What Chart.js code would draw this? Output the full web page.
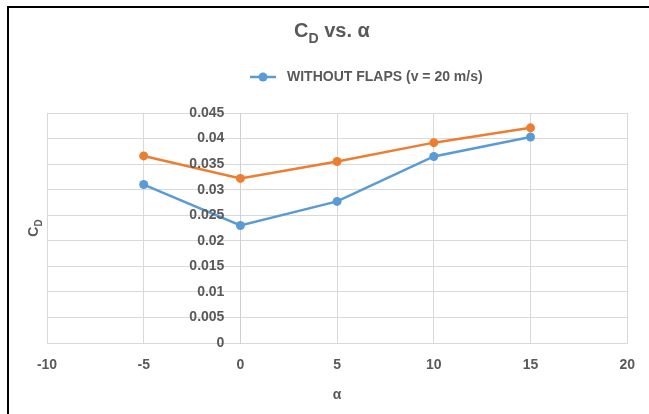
<!DOCTYPE html>
<html>
<head>
<meta charset="utf-8">
<script src="https://cdn.jsdelivr.net/npm/chart.js@4/dist/chart.umd.min.js"></script>
<style>
  html, body { margin: 0; padding: 0; background: #fff; }
  canvas { display: block; }
</style>
</head>
<body>
<canvas id="chart" width="649" height="414"></canvas>
<script>
// Angle of attack (degrees)
const alphaDeg = [-5, 0, 5, 10, 15];
// Drag coefficient, without flaps (v = 20 m/s)
const cdWithoutFlaps = [0.0310, 0.0230, 0.0277, 0.0365, 0.0403];
// Drag coefficient, with flaps
const cdWithFlaps = [0.0366, 0.0322, 0.0355, 0.0392, 0.0421];
// Axis ticks
const xTickValues = [-10, -5, 0, 5, 10, 15, 20];
const yTickValues = [0, 0.005, 0.01, 0.015, 0.02, 0.025, 0.03, 0.035, 0.04, 0.045];
const yTickLabels = ['0', '0.005', '0.01', '0.015', '0.02', '0.025', '0.03', '0.035', '0.04', '0.045'];

const legendLabel = 'WITHOUT FLAPS (v = 20 m/s)';
const BLUE = '#5B9BD5';
const ORANGE = '#ED7D31';
const TEXT = '#595959';
const GRID = '#d9d9d9';
const FONT = '"Liberation Sans", Arial, sans-serif';
const Y_LABEL_GAP = 16;

const toPoints = (xs, ys) => xs.map((x, i) => ({ x: x, y: ys[i] }));

// Draws a base letter followed by a lowered subscript, starting at x
function drawSubscripted(ctx, x, y, base, sub, baseSize, subSize, subDrop) {
  ctx.font = 'bold ' + baseSize + 'px ' + FONT;
  ctx.fillText(base, x, y);
  const w = ctx.measureText(base).width;
  ctx.font = 'bold ' + subSize + 'px ' + FONT;
  ctx.fillText(sub, x + w, y + subDrop);
  return w + ctx.measureText(sub).width;
}

const decorations = {
  id: 'decorations',
  beforeDraw(chart) {
    const ctx = chart.ctx;
    ctx.save();
    ctx.fillStyle = '#ffffff';
    ctx.fillRect(0, 0, chart.width, chart.height);
    ctx.restore();
  },
  afterDatasetsDraw(chart) {
    // y tick labels, placed left of the vertical axis that crosses at x = 0
    const ctx = chart.ctx;
    const xs = chart.scales.x;
    const ys = chart.scales.y;
    const axisX = xs.getPixelForValue(0);
    ctx.save();
    ctx.fillStyle = TEXT;
    ctx.font = 'bold 14px ' + FONT;
    ctx.textAlign = 'right';
    ctx.textBaseline = 'middle';
    yTickValues.forEach((v, i) => {
      ctx.fillText(yTickLabels[i], axisX - Y_LABEL_GAP, ys.getPixelForValue(v));
    });
    ctx.restore();
  },
  afterDraw(chart) {
    const ctx = chart.ctx;
    const area = chart.chartArea;
    ctx.save();

    // outer frame (top and left edges)
    ctx.fillStyle = '#000000';
    ctx.fillRect(7, 6, chart.width - 7, 2);
    ctx.fillRect(7, 6, 2, chart.height - 6);

    ctx.fillStyle = TEXT;
    ctx.textBaseline = 'alphabetic';
    ctx.textAlign = 'left';

    // chart title: C_D vs. α
    ctx.font = 'bold 20px ' + FONT;
    const cW = ctx.measureText('C').width;
    const restW = ctx.measureText(' vs. α').width;
    ctx.font = 'bold 14px ' + FONT;
    const dW = ctx.measureText('D').width;
    const total = cW + dW + restW;
    const tx = 332 - total / 2;
    const ty = 37;
    const used = drawSubscripted(ctx, tx, ty, 'C', 'D', 20, 14, 6);
    ctx.font = 'bold 20px ' + FONT;
    ctx.fillText(' vs. α', tx + used, ty);

    // legend (first series only)
    const ly = 77;
    ctx.strokeStyle = BLUE;
    ctx.lineWidth = 2.5;
    ctx.beginPath();
    ctx.moveTo(250, ly);
    ctx.lineTo(276, ly);
    ctx.stroke();
    ctx.fillStyle = BLUE;
    ctx.beginPath();
    ctx.arc(263, ly, 4.5, 0, Math.PI * 2);
    ctx.fill();
    ctx.fillStyle = TEXT;
    ctx.font = 'bold 14px ' + FONT;
    ctx.textBaseline = 'middle';
    ctx.fillText(legendLabel, 287, ly);

    // y axis title: C_D (rotated)
    ctx.save();
    ctx.translate(38, (area.top + area.bottom) / 2);
    ctx.rotate(-Math.PI / 2);
    ctx.textBaseline = 'alphabetic';
    ctx.font = 'bold 14px ' + FONT;
    const ycW = ctx.measureText('C').width;
    ctx.font = 'bold 10px ' + FONT;
    const ydW = ctx.measureText('D').width;
    drawSubscripted(ctx, -(ycW + ydW) / 2, 0, 'C', 'D', 14, 10, 4);
    ctx.restore();

    // x axis title: α
    ctx.textAlign = 'center';
    ctx.textBaseline = 'middle';
    ctx.font = 'bold 14px ' + FONT;
    ctx.fillText('α', (area.left + area.right) / 2, 395);

    ctx.restore();
  }
};

new Chart(document.getElementById('chart'), {
  type: 'scatter',
  data: {
    datasets: [
      {
        label: legendLabel,
        data: toPoints(alphaDeg, cdWithoutFlaps),
        showLine: true,
        borderColor: BLUE,
        backgroundColor: BLUE,
        borderWidth: 2.5,
        pointRadius: 4.5,
        pointBorderWidth: 0,
        pointHoverRadius: 4.5,
        order: 2
      },
      {
        label: 'WITH FLAPS (v = 20 m/s)',
        data: toPoints(alphaDeg, cdWithFlaps),
        showLine: true,
        borderColor: ORANGE,
        backgroundColor: ORANGE,
        borderWidth: 2.5,
        pointRadius: 4.5,
        pointBorderWidth: 0,
        pointHoverRadius: 4.5,
        order: 1
      }
    ]
  },
  options: {
    responsive: false,
    animation: false,
    devicePixelRatio: 1,
    layout: { padding: { left: 47, right: 21, top: 113, bottom: 0 } },
    plugins: {
      legend: { display: false },
      title: { display: false },
      tooltip: { enabled: false }
    },
    scales: {
      x: {
        type: 'linear',
        position: 'bottom',
        min: xTickValues[0],
        max: xTickValues[xTickValues.length - 1],
        afterBuildTicks: (scale) => { scale.ticks = xTickValues.map(v => ({ value: v })); },
        afterFit: (scale) => { scale.height = 71; },
        ticks: {
          color: TEXT,
          font: { family: FONT, size: 14, weight: 'bold' },
          padding: 14,
          maxRotation: 0,
          autoSkip: false
        },
        grid: { color: GRID, lineWidth: 1, drawTicks: false },
        border: { color: GRID, width: 1 }
      },
      y: {
        type: 'linear',
        position: { x: 0 },
        min: yTickValues[0],
        max: yTickValues[yTickValues.length - 1],
        afterBuildTicks: (scale) => { scale.ticks = yTickValues.map(v => ({ value: v })); },
        ticks: { display: false },
        grid: { color: GRID, lineWidth: 1, drawTicks: false },
        border: { color: '#cfcfcf', width: 1 }
      }
    }
  },
  plugins: [decorations]
});
</script>
</body>
</html>
